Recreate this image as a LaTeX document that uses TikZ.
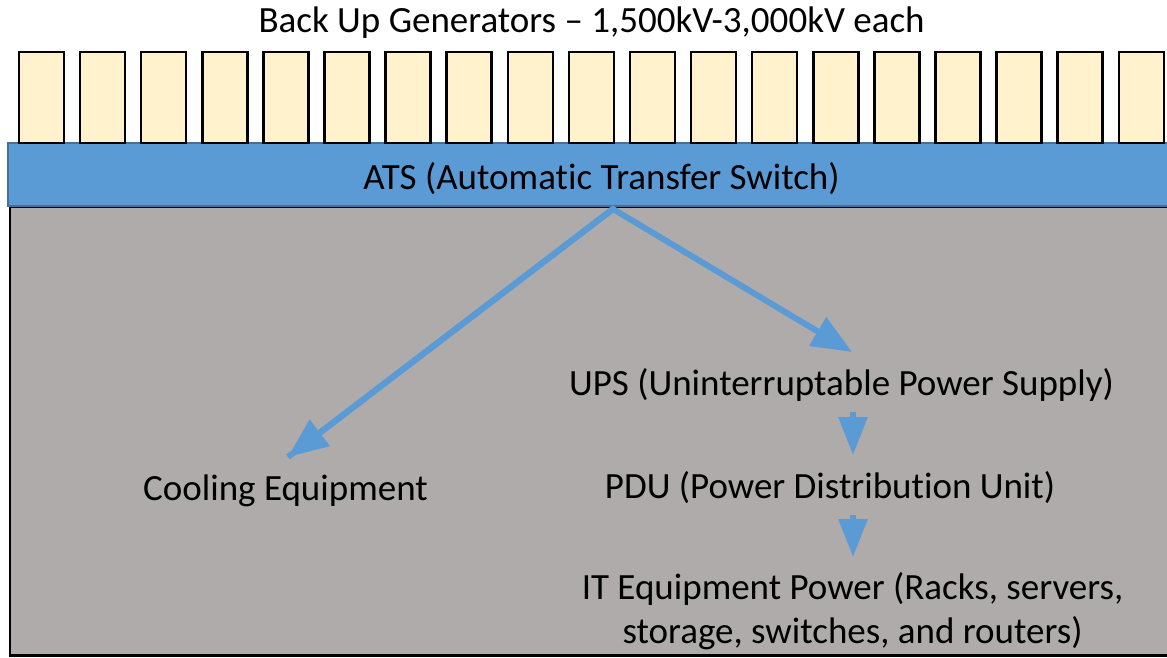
\documentclass[tikz,border=0pt]{standalone}
\usepackage{fontspec}
\setmainfont[Ligatures=NoCommon]{Carlito}
\usetikzlibrary{arrows.meta}
\definecolor{genfill}{HTML}{FFF2CC}
\definecolor{atsblue}{HTML}{5B9BD5}
\definecolor{atsedge}{HTML}{41719C}
\definecolor{boxgray}{HTML}{AEABAA}
\tikzset{
  x=1pt, y=-1pt,
  gen/.style={draw=black, line width=2.5pt, fill=genfill},
  lbl/.style={font=\fontsize{37}{44}\selectfont, inner sep=0pt, anchor=base, align=center},
  flow/.style={draw=atsblue, line width=6pt, -{Triangle[length=40pt,width=32pt]}},
  shortflow/.style={draw=atsblue, line width=6pt, -{Triangle[length=38pt,width=28pt]}}
}
\begin{document}
\begin{tikzpicture}
\useasboundingbox (0,0) rectangle (1167,657);
\fill[white] (0,0) rectangle (1167,657);
% gray area
\draw[fill=boxgray, draw=black, line width=2.5pt] (10,207) rectangle (1180,655.5);
% ATS bar
\draw[fill=atsblue, draw=atsedge, line width=2pt] (8,143) rectangle (1180,206);
% generators
\foreach \i in {0,...,18} {
  \pgfmathsetmacro{\xl}{19+61.1*\i}
  \draw[gen] (\xl,52) rectangle ({\xl+45},143);
}
% texts
\node[lbl] (title) at (591.5,32) {Back Up Generators – 1,500kV-3,000kV each};
\node[lbl] (ats) at (601.5,189) {ATS (Automatic Transfer Switch)};
\node[lbl] (ups) at (841.5,395) {UPS (Uninterruptable Power Supply)};
\node[lbl] (cool) at (285.5,500) {Cooling Equipment};
\node[lbl] (pdu) at (830,498) {PDU (Power Distribution Unit)};
\node[lbl] (it) at (852.5,643) {IT Equipment Power (Racks, servers,\\storage, switches, and routers)};
% connectors
\coordinate (src) at (613,209);
\coordinate (tipL) at (288,457);
\coordinate (tipR) at (852,352);
\coordinate (u1) at (853,412);
\coordinate (u2) at (853,455);
\coordinate (p1) at (853,515);
\coordinate (p2) at (853,557);
\draw[flow, line join=miter] (tipL) -- (src) -- (tipR);
\draw[flow] (src) -- (tipL);
\draw[shortflow] (u1) -- (u2);
\draw[shortflow] (p1) -- (p2);
\end{tikzpicture}
\end{document}
